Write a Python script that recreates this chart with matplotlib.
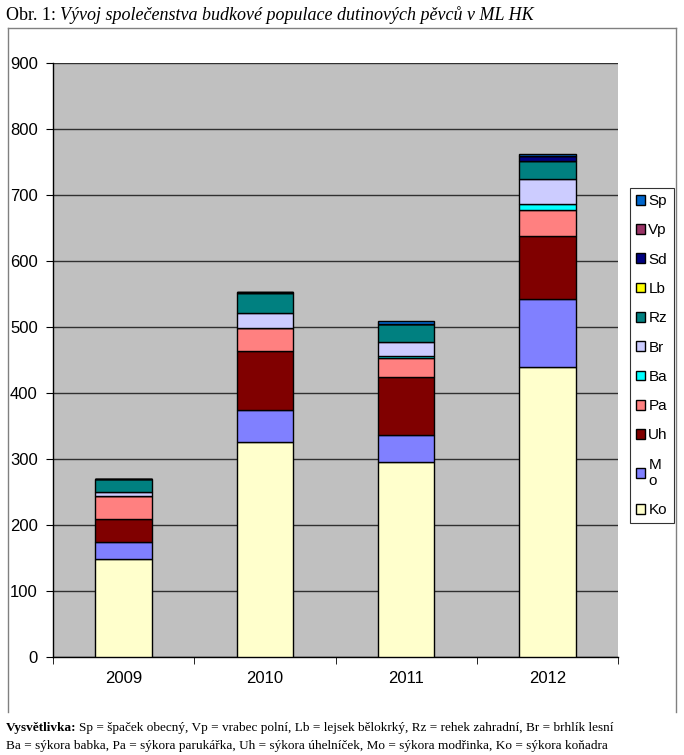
import numpy as np
import matplotlib
matplotlib.use("Agg")
import matplotlib.pyplot as plt
from matplotlib.lines import Line2D

# ==========================================
# DATA
# ==========================================

years = ["2009", "2010", "2011", "2012"]

# stacked from the bottom up
species = ["Ko", "Mo", "Uh", "Pa", "Ba", "Br", "Rz", "Lb", "Sd", "Vp", "Sp"]
legend_labels = ["Ko", "M\no", "Uh", "Pa", "Ba", "Br", "Rz", "Lb", "Sd", "Vp", "Sp"]

Ko = [149, 326, 295, 440]
Mo = [25, 49, 42, 103]
Uh = [35, 88, 88, 95]
Pa = [35, 35, 28, 40]
Ba = [0, 0, 3, 9]
Br = [6, 23, 22, 37]
Rz = [19, 30, 26, 28]
Lb = [0, 0, 0, 0]
Sd = [0, 2, 0, 7]
Vp = [0, 0, 0, 0]
Sp = [0, 0, 5, 3]

series = [Ko, Mo, Uh, Pa, Ba, Br, Rz, Lb, Sd, Vp, Sp]
colors = ["#FFFFCC", "#8080FF", "#800000", "#FF8080", "#00FFFF", "#CCCCFF",
          "#008080", "#FFFF00", "#000080", "#993366", "#0066CC"]

# ==========================================
# FIGURE
# ==========================================

W, H = 684, 755
fig = plt.figure(figsize=(W / 100, H / 100), dpi=100)

# chart frame (left, top, right)
frame_col = "#808080"
for xs, ys in [((8, 8), (28, 712)), ((8, 676), (28, 28)), ((676, 676), (28, 712))]:
    fig.add_artist(Line2D([x / W for x in xs], [1 - y / H for y in ys],
                          color=frame_col, lw=1.0))

ax = fig.add_axes([53 / W, 1 - 657 / H, 565 / W, 594 / H])
ax.set_facecolor("#C0C0C0")

x = np.arange(len(years))
bottom = np.zeros(len(years))
handles = []
for vals, col in zip(series, colors):
    b = ax.bar(x, vals, width=0.4, bottom=bottom, color=col,
               edgecolor="black", linewidth=1.0, zorder=3)
    handles.append(b)
    bottom = bottom + np.array(vals)

ax.set_xlim(-0.5, len(years) - 0.5)
ax.set_ylim(0, 900)
ax.set_yticks(np.arange(0, 901, 100))
ax.yaxis.grid(True, color="#303030", linewidth=1.0, zorder=1)
ax.set_axisbelow(True)

ax.set_xticks(x)
ax.set_xticklabels(years)
ax.set_xticks(np.arange(-0.5, len(years), 1.0), minor=True)
ax.tick_params(axis="x", which="major", length=0, pad=10)
ax.tick_params(axis="x", which="minor", length=5, direction="out", color="black")
ax.tick_params(axis="y", length=5, direction="out", color="black", pad=6)

for lab in ax.get_xticklabels() + ax.get_yticklabels():
    lab.set_fontfamily("Liberation Sans")
    lab.set_fontsize(12)

for s in ["top", "right"]:
    ax.spines[s].set_visible(False)
for s in ["left", "bottom"]:
    ax.spines[s].set_color("black")
    ax.spines[s].set_linewidth(1.0)

# legend, top entry first
leg = fig.legend(handles[::-1], legend_labels[::-1],
                 loc="upper left", bbox_to_anchor=(630 / W, 1 - 188 / H),
                 prop={"family": "Liberation Sans", "size": 11},
                 frameon=True, fancybox=False, edgecolor="black",
                 handlelength=0.6, handleheight=0.6, handletextpad=0.2,
                 labelspacing=1.0, borderpad=0.4, borderaxespad=0)
leg.get_frame().set_linewidth(0.8)

# ==========================================
# TITLE AND FOOTNOTE
# ==========================================

fig.canvas.draw()
renderer = fig.canvas.get_renderer()

def text_run(parts, x0, y0, size):
    xpos = x0
    for txt, style, weight in parts:
        t = fig.text(xpos / W, 1 - y0 / H, txt, fontsize=size,
                     family="Liberation Serif", style=style, weight=weight,
                     va="baseline", ha="left")
        bb = t.get_window_extent(renderer=renderer)
        xpos += bb.width

text_run([("Obr. 1: ", "normal", "normal"),
          ("Vývoj společenstva budkové populace dutinových pěvců v ML HK", "italic", "normal")],
         6, 20, 13)

text_run([("Vysvětlivka: ", "normal", "bold"),
          ("Sp = špaček obecný, Vp = vrabec polní, Lb = lejsek bělokrký, Rz = rehek zahradní, Br = brhlík lesní",
           "normal", "normal")], 6, 731, 9.5)
text_run([("Ba = sýkora babka, Pa = sýkora parukářka, Uh = sýkora úhelníček, Mo = sýkora modřinka, Ko = sýkora koňadra",
           "normal", "normal")], 6, 749, 9.5)

fig.savefig("out.png", dpi=100)
